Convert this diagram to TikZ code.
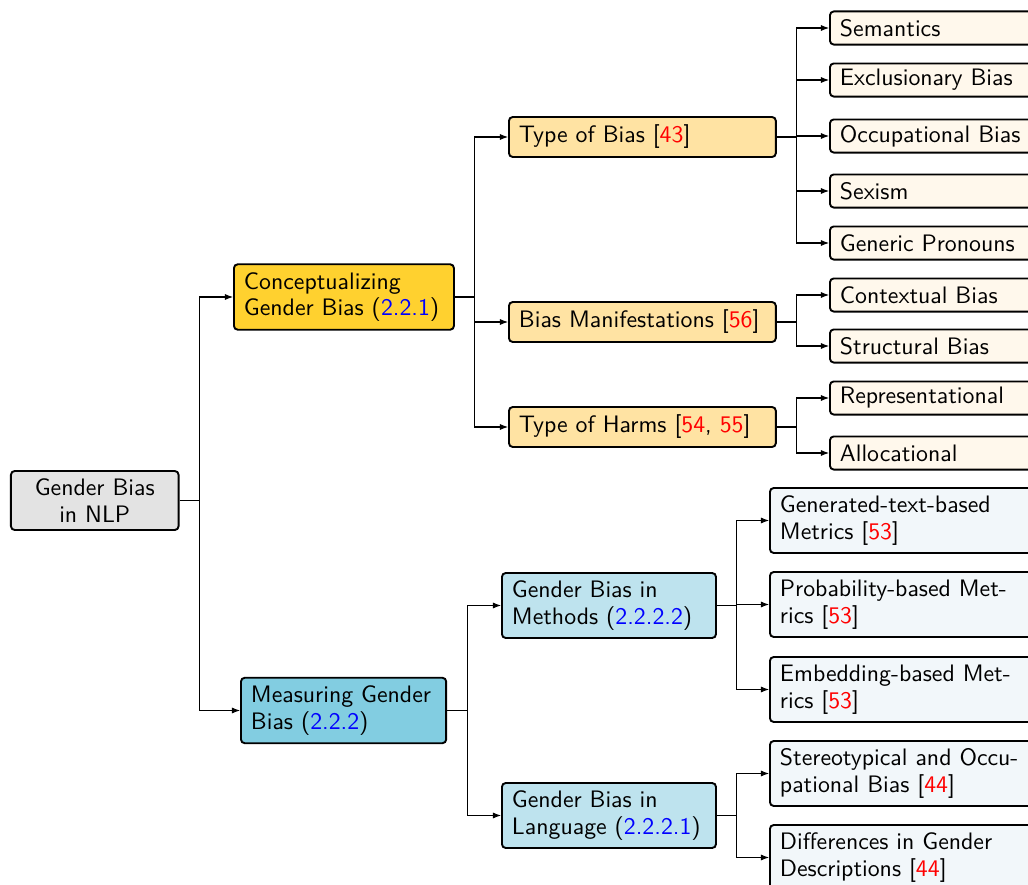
\documentclass[tikz,border=0pt]{standalone}
\usetikzlibrary{arrows.meta}
\definecolor{rootfill}{HTML}{E3E3E3}
\definecolor{conceptfill}{HTML}{FFD12F}
\definecolor{measurefill}{HTML}{82CDE1}
\definecolor{typefill}{HTML}{FFE3A3}
\definecolor{upleaf}{HTML}{FFF8EC}
\definecolor{methfill}{HTML}{BEE3EE}
\definecolor{lowleaf}{HTML}{F2F7FA}
\newcommand{\secref}[1]{\textcolor{blue}{#1}}
\newcommand{\citeref}[1]{\textcolor{red}{#1}}
\begin{document}
\begin{tikzpicture}[x=0.42pt,y=-0.42pt,
  font=\sffamily\fontsize{10}{11.2}\selectfont,
  box/.style={draw=black, line width=0.8pt, rounded corners=1.6pt, anchor=west,
    inner xsep=4.2pt, inner ysep=0pt, align=left},
  rootbox/.style={box, fill=rootfill, align=center, text width=62pt, minimum height=24.8pt},
  lvlone/.style={box, minimum height=27.5pt},
  typebox/.style={box, fill=typefill, text width=103.7pt, minimum height=16.8pt},
  upleafbox/.style={box, fill=upleaf, text width=84pt, minimum height=13.9pt},
  methbox/.style={box, fill=methfill, text width=81.5pt, minimum height=27.3pt},
  lowleafbox/.style={box, fill=lowleaf, text width=108pt, minimum height=27.3pt},
  link/.style={line width=0.45pt, -{Latex[length=3.4pt,width=2.6pt]}},
]
\clip (0,0) rectangle (1028,885);
\fill[white] (0,0) rectangle (1028,885);

% root
\node[rootbox] (root) at (10,500.5) {Gender Bias\\in NLP};

% first level
\node[lvlone, fill=conceptfill, text width=84pt] (concept) at (233,297) {Conceptualizing\\Gender Bias (\secref{2.2.1})};
\node[lvlone, fill=measurefill, text width=77.8pt] (measure) at (240,710.5) {Measuring Gender\\Bias (\secref{2.2.2})};

% conceptual branch
\node[typebox] (tbias) at (508,137) {Type of Bias [\citeref{43}]};
\node[typebox] (manif) at (508,322) {Bias Manifestations [\citeref{56}]};
\node[typebox] (harms) at (508,427) {Type of Harms [\citeref{54}, \citeref{55}]};

\node[upleafbox] (sem)  at (829,28)  {Semantics};
\node[upleafbox] (excl) at (829,80)  {Exclusionary Bias};
\node[upleafbox] (occ)  at (829,136) {Occupational Bias};
\node[upleafbox] (sex)  at (829,191) {Sexism};
\node[upleafbox] (gen)  at (829,243) {Generic Pronouns};
\node[upleafbox] (ctx)  at (829,295) {Contextual Bias};
\node[upleafbox] (str)  at (829,346) {Structural Bias};
\node[upleafbox] (rep)  at (829,398) {Representational};
\node[upleafbox] (alloc) at (829,453) {Allocational};

% measuring branch
\node[methbox] (meth) at (501,605.5) {Gender Bias in\\Methods (\secref{2.2.2.2})};
\node[methbox] (lang) at (501,815.5) {Gender Bias in\\Language (\secref{2.2.2.1})};

\node[lowleafbox] (gent)  at (769,520.5) {Generated-text-based\\Metrics [\citeref{53}]};
\node[lowleafbox] (prob)  at (769,604.5) {Probability-based Met-\\rics [\citeref{53}]};
\node[lowleafbox] (emb)   at (769,689.5) {Embedding-based Met-\\rics [\citeref{53}]};
\node[lowleafbox] (stereo) at (769,773.5) {Stereotypical and Occu-\\pational Bias [\citeref{44}]};
\node[lowleafbox] (diff)  at (769,857.5) {Differences in Gender\\Descriptions [\citeref{44}]};

% forked connectors
\foreach \p/\c in {root/concept, root/measure,
  concept/tbias, concept/manif, concept/harms,
  tbias/sem, tbias/excl, tbias/occ, tbias/sex, tbias/gen,
  manif/ctx, manif/str, harms/rep, harms/alloc,
  measure/meth, measure/lang,
  meth/gent, meth/prob, meth/emb, lang/stereo, lang/diff}
  \draw[link] (\p.east) -- ++(20,0) |- (\c.west);
\end{tikzpicture}
\end{document}
